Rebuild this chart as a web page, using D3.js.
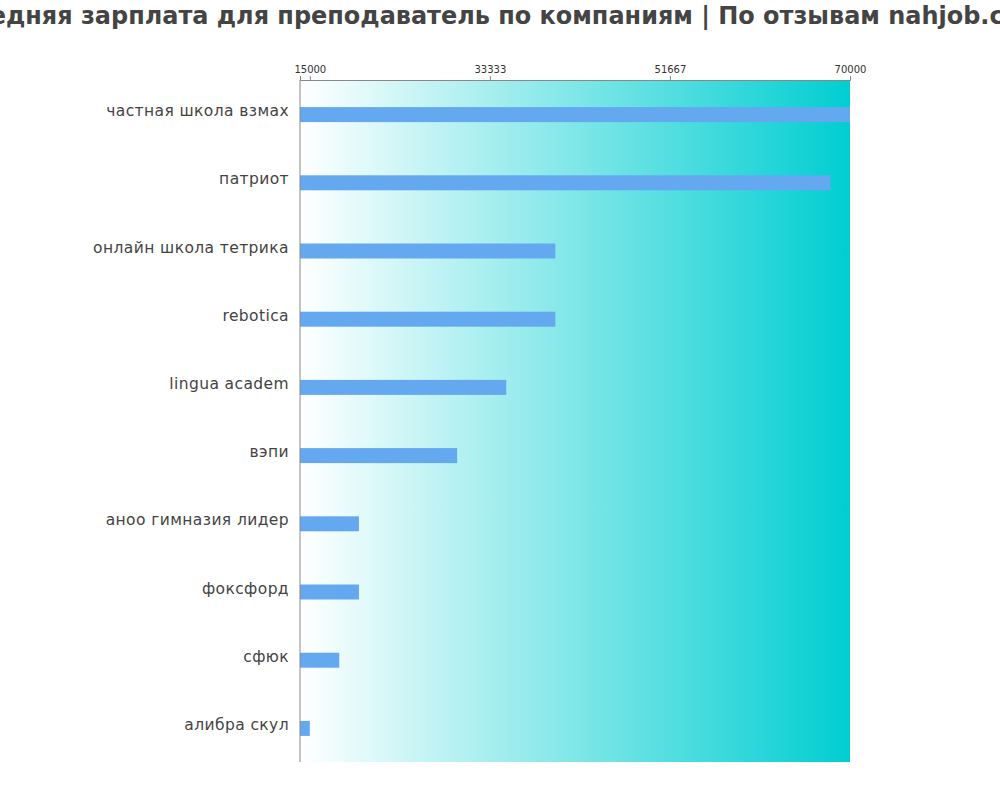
<!DOCTYPE html>
<html><head><meta charset="utf-8">
<script src="https://cdn.jsdelivr.net/npm/d3@7"></script>
<style>body{margin:0;background:#fff;font-family:"DejaVu Sans",sans-serif}</style>
</head><body><svg id="c" width="1000" height="800"></svg>
<script>
const companies = ["частная школа взмах","патриот","онлайн школа тетрика","rebotica","lingua academ","вэпи","аноо гимназия лидер","фоксфорд","сфюк","алибра скул"];
const salaries = [70000,68000,40000,40000,35000,30000,20000,20000,18000,15000];
const tickValues = [15000,33333,51667,70000];
const title = "Средняя зарплата для преподаватель по компаниям  | По отзывам nahjob.com";

const svg = d3.select("#c");
const m = {l:300, r:850, t:80, b:762};
const x = d3.scaleLinear().domain([14000,70000]).range([m.l,m.r]);
const y = d3.scaleBand().domain(companies).range([m.t,m.b]);

const grad = svg.append("defs").append("linearGradient").attr("id","g");
grad.append("stop").attr("offset","0%").attr("stop-color","#ffffff");
grad.append("stop").attr("offset","100%").attr("stop-color","#00ced1");
svg.append("rect").attr("x",m.l).attr("y",m.t).attr("width",m.r-m.l).attr("height",m.b-m.t).attr("fill","url(#g)");

svg.append("text").attr("x",500).attr("y",24).attr("text-anchor","middle")
  .attr("font-size",24).attr("font-weight","bold").attr("fill","#444")
  .attr("textLength",1090).attr("lengthAdjust","spacingAndGlyphs").text(title);

svg.selectAll(".bar").data(salaries).join("rect")
  .attr("x",m.l).attr("y",(d,i)=>y(companies[i])+y.bandwidth()/2-7)
  .attr("width",d=>x(d)-m.l).attr("height",15).attr("fill","#64a8f0");

const ax = svg.append("g").attr("transform",`translate(0,${m.t})`)
  .call(d3.axisTop(x).tickValues(tickValues).tickFormat(d3.format("d")).tickSize(4));
ax.selectAll("text").attr("font-size",10).attr("fill","#333").attr("font-family","DejaVu Sans");
ax.selectAll("line,path").attr("stroke","#888");

svg.append("line").attr("x1",m.l).attr("x2",m.l).attr("y1",m.t).attr("y2",m.b).attr("stroke","#888");

svg.selectAll(".lab").data(companies).join("text")
  .attr("x",289).attr("y",d=>y(d)+y.bandwidth()/2+2).attr("text-anchor","end")
  .attr("font-size",15.5).attr("letter-spacing",0.4).attr("fill","#444").text(d=>d);
</script></body></html>
